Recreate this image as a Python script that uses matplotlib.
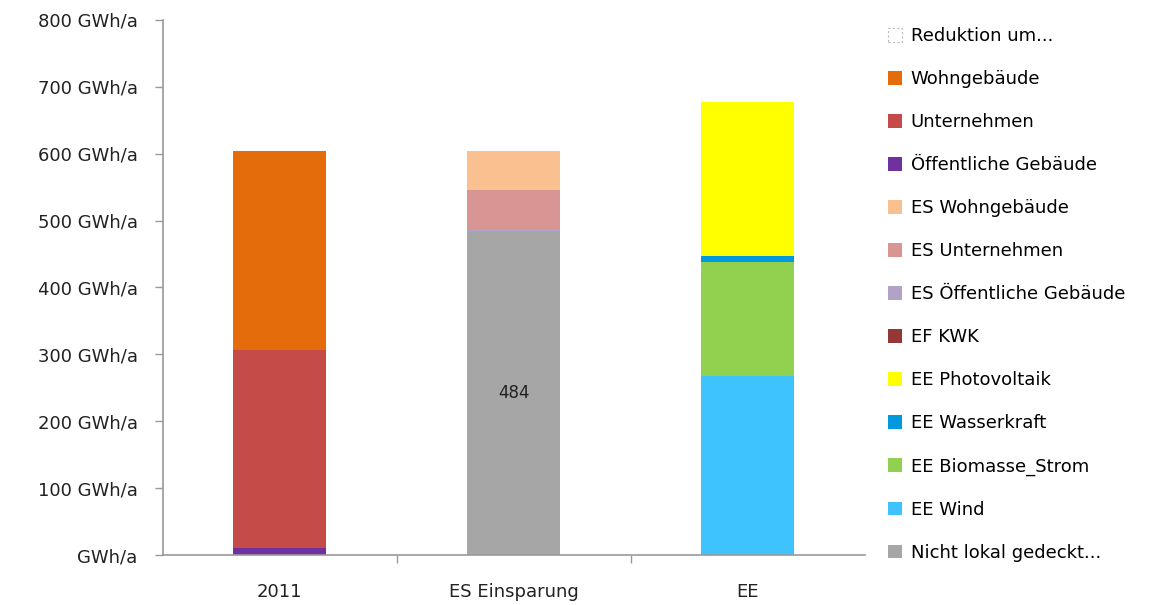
import matplotlib
matplotlib.use("Agg")
import matplotlib.pyplot as plt
from matplotlib.patches import Patch
import numpy as np

categories = ["2011", "ES Einsparung", "EE"]

# series in stacking order (bottom -> top), values per category
series_names = [
    "Nicht lokal gedeckt...",
    "EE Wind",
    "EE Biomasse_Strom",
    "EE Wasserkraft",
    "EE Photovoltaik",
    "EF KWK",
    "ES Öffentliche Gebäude",
    "ES Unternehmen",
    "ES Wohngebäude",
    "Öffentliche Gebäude",
    "Unternehmen",
    "Wohngebäude",
    "Reduktion um...",
]
nicht_lokal = [0, 484, 0]
ee_wind = [0, 0, 268]
ee_biomasse = [0, 0, 170]
ee_wasser = [0, 0, 9]
ee_pv = [0, 0, 230]
ef_kwk = [0, 0, 0]
es_oeff = [0, 2, 0]
es_unternehmen = [0, 60, 0]
es_wohn = [0, 58, 0]
oeff = [10, 0, 0]
unternehmen = [296, 0, 0]
wohn = [298, 0, 0]
reduktion = [0, 0, 0]
series_values = [nicht_lokal, ee_wind, ee_biomasse, ee_wasser, ee_pv, ef_kwk,
                 es_oeff, es_unternehmen, es_wohn, oeff, unternehmen, wohn, reduktion]
colors = ["#A6A6A6", "#3FC3FF", "#92D050", "#0099DD", "#FFFF00", "#953735",
          "#B3A2C7", "#D99594", "#FAC090", "#7030A0", "#C44B48", "#E46C0A", "#FFFFFF"]

yticks = [0, 100, 200, 300, 400, 500, 600, 700, 800]
ytick_labels = ["GWh/a", "100 GWh/a", "200 GWh/a", "300 GWh/a", "400 GWh/a",
                "500 GWh/a", "600 GWh/a", "700 GWh/a", "800 GWh/a"]
annot_value = 484

plt.rcParams['font.family'] = ['DejaVu Sans']
fig = plt.figure(figsize=(11.7, 6.05), dpi=100)
ax = fig.add_axes([0.139, 0.0826, 0.600, 0.8844])

x = np.arange(len(categories))
bottom = np.zeros(len(categories))
for name, vals, col in zip(series_names, series_values, colors):
    v = np.array(vals, dtype=float)
    ax.bar(x, v, bottom=bottom, width=0.40, color=col, edgecolor="none", label=name)
    bottom += v

ax.text(1, annot_value / 2, str(annot_value), ha="center", va="center",
        fontsize=12, color="#222222")

ax.set_xlim(-0.5, 2.5)
ax.set_ylim(0, 800)
ax.set_yticks(yticks)
ax.set_yticklabels(ytick_labels, fontsize=13, color="#222222")
ax.set_xticks(x)
ax.set_xticklabels(categories, fontsize=13, color="#222222")
ax.tick_params(axis="x", length=0, pad=20)
ax.set_xticks([0.5, 1.5], minor=True)
ax.tick_params(axis="x", which="minor", length=6, color="#999999", width=1)
ax.tick_params(axis="y", length=6, color="#999999", width=1, pad=12)
for s in ["top", "right"]:
    ax.spines[s].set_visible(False)
for s in ["left", "bottom"]:
    ax.spines[s].set_color("#999999")
    ax.spines[s].set_linewidth(1.2)

# legend in reversed stacking order
handles = []
for name, col in zip(series_names[::-1], colors[::-1]):
    if name == "Reduktion um...":
        handles.append(Patch(facecolor="white", edgecolor="#BBBBBB", linestyle=(0, (2, 2)),
                             linewidth=0.8, label=name))
    else:
        handles.append(Patch(facecolor=col, edgecolor="none", label=name))
fig.legend(handles=handles, loc="upper left", bbox_to_anchor=(0.753, 0.967),
           frameon=False, fontsize=13, handlelength=0.75, handleheight=0.75,
           handletextpad=0.5, labelspacing=1.385, borderaxespad=0)

fig.savefig("out.png", dpi=100)
